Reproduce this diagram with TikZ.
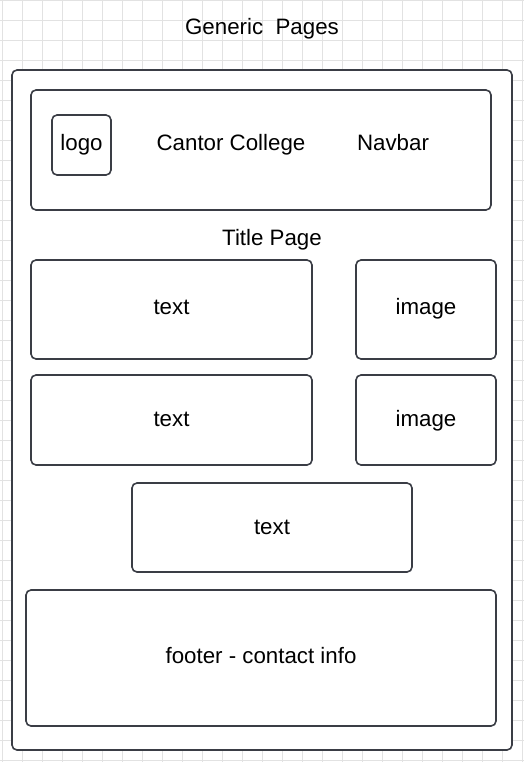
\documentclass[tikz,border=0pt]{standalone}
\usepackage{fontspec}
\setmainfont{Liberation Sans}
\definecolor{edge}{HTML}{3A3D45}
\definecolor{gridc}{HTML}{E2E2E2}
\tikzset{
  box/.style={draw=edge, line width=1.6pt, rounded corners=5pt, fill=white},
  lbl/.style={font=\fontsize{22.3}{26}\selectfont, text=black, inner sep=0pt, anchor=base},
}
\begin{document}
\begin{tikzpicture}[x=1pt, y=-1pt]
\useasboundingbox (0,0) rectangle (524,762);
\fill[white] (0,0) rectangle (524,762);
% grid
\foreach \gx in {2.5,22.5,...,522.5} \draw[gridc, line width=0.8pt] (\gx,0) -- (\gx,762);
\foreach \gy in {0,20,...,760} \draw[gridc, line width=0.8pt] (0,\gy) -- (524,\gy);
% title
\node[lbl] (title) at (262,35) {Generic\ \ Pages};
% outer frame
\draw[box] (12,70) rectangle (512,750);
\coordinate (outer) at (262,410);
% navbar
\draw[box] (31,90) rectangle (491,210);
\draw[box] (52,115) rectangle (111,175);
\node[lbl] (logo) at (81.5,150) {logo};
\node[lbl] (cantor) at (231,150) {Cantor College};
\node[lbl] (navbar) at (393,150) {Navbar};
% title page label
\node[lbl] (titlepage) at (272,245) {Title Page};
% row 1
\draw[box] (31,260) rectangle (312,359);
\node[lbl] (text1) at (171.5,314) {text};
\draw[box] (356,260) rectangle (496,359);
\node[lbl] (image1) at (426,314) {image};
% row 2
\draw[box] (31,375) rectangle (312,465);
\node[lbl] (text2) at (171.5,426) {text};
\draw[box] (356,375) rectangle (496,465);
\node[lbl] (image2) at (426,426) {image};
% row 3
\draw[box] (132,483) rectangle (412,572);
\node[lbl] (text3) at (272,534) {text};
% footer
\draw[box] (26,590) rectangle (496,726);
\node[lbl] (footer) at (261,663) {footer - contact info};
\end{tikzpicture}
\end{document}
